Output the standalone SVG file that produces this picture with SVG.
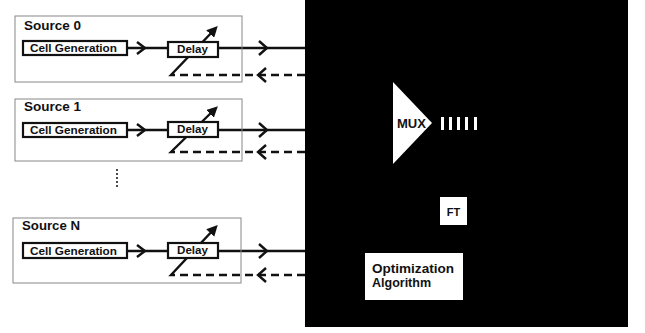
<svg xmlns="http://www.w3.org/2000/svg" width="645" height="333" viewBox="0 0 645 333">
<style>
.src{fill:none;stroke:#888;stroke-width:1}
.blk{fill:#fff;stroke:#111;stroke-width:2.2}
.t{font-family:"Liberation Sans",Arial,sans-serif;font-weight:bold;fill:#111}
.lbl{font-size:13px}
.sm{font-size:10.5px}
.ln{fill:none;stroke:#111;stroke-width:2.4}
.dash{fill:none;stroke:#111;stroke-width:2.4;stroke-dasharray:8,5}
.chev{fill:none;stroke:#111;stroke-width:2.4;stroke-linejoin:miter}
.wt{font-family:"Liberation Sans",Arial,sans-serif;font-weight:bold;fill:#111}
</style>
<defs>
<marker id="ah" markerWidth="11" markerHeight="11" refX="7" refY="5.5" orient="auto" markerUnits="userSpaceOnUse">
<path d="M0,0 L11,5.5 L0,11 Z" fill="#111"/>
</marker>
</defs>
<rect width="645" height="333" fill="#fff"/>

<g id="system">
<rect x="305" y="0" width="323" height="327" fill="#000"/>
</g>

<g id="mux">
<polygon points="393,82 432,123 393,164" fill="#fff"/>
<text class="wt" x="397" y="128" font-size="13" textLength="29" lengthAdjust="spacingAndGlyphs">MUX</text>
<g fill="#fff">
<rect x="441" y="117" width="3" height="13"/>
<rect x="449" y="117" width="3" height="13"/>
<rect x="457" y="117" width="3" height="13"/>
<rect x="465" y="117" width="3" height="13"/>
<rect x="474" y="117" width="3" height="13"/>
</g>
</g>

<g id="ft">
<rect x="440" y="197" width="27" height="28" fill="#fff"/>
<text class="wt" x="453.5" y="215.5" font-size="11" text-anchor="middle">FT</text>
</g>

<g id="opt">
<rect x="365" y="253" width="98" height="47" fill="#fff"/>
<text class="wt" x="372" y="273" font-size="12.5" textLength="82" lengthAdjust="spacingAndGlyphs">Optimization</text>
<text class="wt" x="372" y="287" font-size="12.5">Algorithm</text>
</g>

<g id="connectors">
<!-- Source 0 -->
<line class="ln" x1="128" y1="48" x2="167" y2="48"/>
<polyline class="chev" points="137,42 145,48 137,54"/>
<line class="ln" x1="219" y1="48" x2="305" y2="48"/>
<polyline class="chev" points="259,41 267,48 259,55"/>
<line class="dash" x1="305" y1="75" x2="174" y2="75"/>
<polyline class="chev" points="266,68 258,75 266,82"/>
<polyline class="ln" points="174,75 171,75 215,29" marker-end="url(#ah)"/>
<!-- Source 1 -->
<line class="ln" x1="128" y1="130" x2="167" y2="130"/>
<polyline class="chev" points="137,124 145,130 137,136"/>
<line class="ln" x1="219" y1="130" x2="305" y2="130"/>
<polyline class="chev" points="259,123 267,130 259,137"/>
<line class="dash" x1="305" y1="152" x2="174" y2="152"/>
<polyline class="chev" points="266,145 258,152 266,159"/>
<polyline class="ln" points="174,152 171,152 215,109" marker-end="url(#ah)"/>
<!-- Source N -->
<line class="ln" x1="128" y1="251" x2="167" y2="251"/>
<polyline class="chev" points="137,245 145,251 137,257"/>
<line class="ln" x1="219" y1="251" x2="305" y2="251"/>
<polyline class="chev" points="259,244 267,251 259,258"/>
<line class="dash" x1="305" y1="275" x2="174" y2="275"/>
<polyline class="chev" points="266,268 258,275 266,282"/>
<polyline class="ln" points="174,275 171,275 215,228" marker-end="url(#ah)"/>
</g>

<g id="source0">
<rect class="src" x="15" y="16" width="227" height="66"/>
<text class="t lbl" x="24" y="30" textLength="57" lengthAdjust="spacingAndGlyphs">Source 0</text>
<rect class="blk" x="23" y="41" width="104" height="14"/>
<text class="t sm" x="30" y="52" textLength="87" lengthAdjust="spacingAndGlyphs">Cell Generation</text>
<rect class="blk" x="168" y="42" width="50" height="15"/>
<text class="t sm" x="177" y="53" textLength="31" lengthAdjust="spacingAndGlyphs">Delay</text>
</g>

<g id="source1">
<rect class="src" x="15" y="99" width="227" height="62"/>
<text class="t lbl" x="24" y="111" textLength="57" lengthAdjust="spacingAndGlyphs">Source 1</text>
<rect class="blk" x="23" y="123" width="104" height="14"/>
<text class="t sm" x="30" y="134" textLength="87" lengthAdjust="spacingAndGlyphs">Cell Generation</text>
<rect class="blk" x="168" y="122" width="50" height="15"/>
<text class="t sm" x="177" y="133" textLength="31" lengthAdjust="spacingAndGlyphs">Delay</text>
</g>

<g id="ellipsis">
<line x1="117" y1="169" x2="117" y2="189" stroke="#111" stroke-width="1.5" stroke-dasharray="2,2"/>
</g>

<g id="sourceN">
<rect class="src" x="13" y="218" width="228" height="65"/>
<text class="t lbl" x="22" y="230" textLength="58" lengthAdjust="spacingAndGlyphs">Source N</text>
<rect class="blk" x="23" y="243" width="104" height="15"/>
<text class="t sm" x="30" y="255" textLength="87" lengthAdjust="spacingAndGlyphs">Cell Generation</text>
<rect class="blk" x="168" y="243" width="50" height="15"/>
<text class="t sm" x="177" y="254" textLength="31" lengthAdjust="spacingAndGlyphs">Delay</text>
</g>
</svg>
